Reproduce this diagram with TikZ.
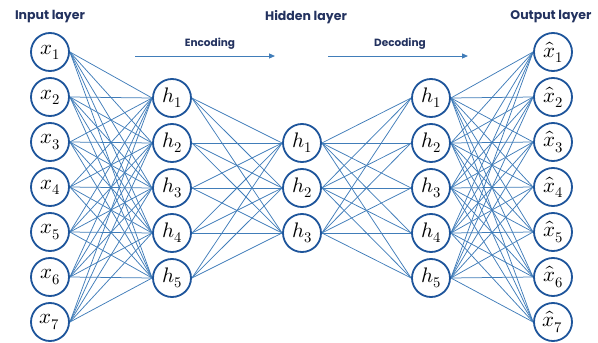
\documentclass[tikz,border=0pt]{standalone}
\usepackage{fontspec}
\setmainfont{Poppins}
\usepackage{unicode-math}
\setmathfont{Latin Modern Math}
\usetikzlibrary{arrows.meta}
\definecolor{edge}{RGB}{65,125,185}
\definecolor{ring}{RGB}{30,85,155}
\definecolor{title}{RGB}{35,50,95}
\pgfdeclarelayer{bg}
\pgfsetlayers{bg,main}
\begin{document}
\begin{tikzpicture}[x=1pt,y=-1pt,
  neuron/.style={circle,draw=ring,line width=1.8pt,fill=white,minimum size=38pt,inner sep=0pt,font=\fontsize{21}{21}\selectfont},
  conn/.style={draw=edge,line width=0.75pt},
  heading/.style={text=title,font=\fontsize{12.5}{12.5}\selectfont\bfseries},
  flowlabel/.style={text=title,font=\fontsize{10.5}{10.5}\selectfont\bfseries},
  flow/.style={draw=edge,line width=1pt,-{Triangle[length=6pt,width=5pt]}}]
\useasboundingbox (0,0) rectangle (598,343);
% nodes
\foreach \i/\y in {1/52,2/97,3/142,4/187,5/232,6/277,7/322}{
  \node[neuron] (x\i) at (50,\y) {$x_{\i}$};
  \node[neuron] (o\i) at (553,\y) {$\hat{x}_{\i}$};
}
\foreach \i/\y in {1/98,2/143,3/188,4/233,5/278}{
  \node[neuron] (e\i) at (172,\y) {$h_{\i}$};
  \node[neuron] (d\i) at (431,\y) {$h_{\i}$};
}
\foreach \i/\y in {1/143,2/188,3/233}{
  \node[neuron] (m\i) at (302,\y) {$h_{\i}$};
}
% connections
\begin{pgfonlayer}{bg}
\foreach \i in {1,...,7}{\foreach \j in {1,...,5}{
  \draw[conn] (x\i.east) -- (e\j.west);
  \draw[conn] (d\j.east) -- (o\i.west);
}}
\foreach \i in {1,...,5}{\foreach \j in {1,2,3}{
  \draw[conn] (e\i.east) -- (m\j.west);
  \draw[conn] (m\j.east) -- (d\i.west);
}}
\end{pgfonlayer}
% titles
\node[heading] (tin) at (50,17) {Input layer};
\node[heading] (thid) at (306,17) {Hidden layer};
\node[heading] (tout) at (551,17) {Output layer};
% flow arrows
\coordinate (enca) at (135,56);
\coordinate (encb) at (275,56);
\coordinate (deca) at (328,56);
\coordinate (decb) at (468,56);
\draw[flow] (enca) -- (encb);
\draw[flow] (deca) -- (decb);
\node[flowlabel] (lenc) at (210,44) {Encoding};
\node[flowlabel] (ldec) at (400,44) {Decoding};
\end{tikzpicture}
\end{document}
